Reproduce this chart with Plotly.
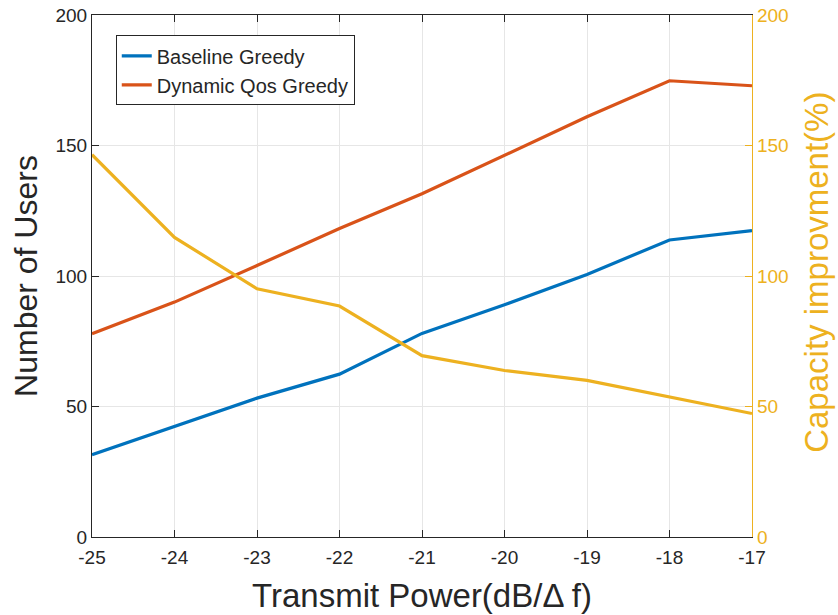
import plotly.graph_objects as go

power = [-25, -24, -23, -22, -21, -20, -19, -18, -17]
baseline_greedy = [31.5, 42.3, 53.2, 62.4, 78.0, 89.0, 100.6, 113.8, 117.4]
dynamic_qos_greedy = [77.9, 90.0, 104.0, 118.2, 131.5, 146.3, 161.0, 174.8, 172.9]
capacity_improvement = [146.5, 114.8, 95.1, 88.5, 69.5, 63.8, 60.0, 53.7, 47.3]

x_ticks = [-25, -24, -23, -22, -21, -20, -19, -18, -17]
y_ticks = [0, 50, 100, 150, 200]

BLUE = "#0072BD"
ORANGE = "#D95319"
YELLOW = "#EDB120"
AX = "#262626"
FONT = "Liberation Sans, Arial, Helvetica, sans-serif"

fig = go.Figure()
fig.add_trace(go.Scatter(x=power, y=baseline_greedy, mode="lines", name="Baseline Greedy",
                         line=dict(color=BLUE, width=3.2)))
fig.add_trace(go.Scatter(x=power, y=dynamic_qos_greedy, mode="lines", name="Dynamic Qos Greedy",
                         line=dict(color=ORANGE, width=3.2)))
fig.add_trace(go.Scatter(x=power, y=capacity_improvement, mode="lines", name="Capacity improvment",
                         line=dict(color=YELLOW, width=3.2), yaxis="y2", showlegend=False))

fig.update_layout(
    width=838, height=615,
    margin=dict(l=92, r=86, t=15, b=78, autoexpand=False),
    paper_bgcolor="white", plot_bgcolor="white",
    font=dict(family=FONT, color=AX, size=19),
    showlegend=True,
    legend=dict(x=0.036, y=0.961, xanchor="left", yanchor="top",
                bgcolor="white", bordercolor=AX, borderwidth=1,
                font=dict(size=20, color=AX), tracegroupgap=0,
                itemwidth=30),
    xaxis=dict(range=[-25, -17], tickmode="array", tickvals=x_ticks,
               ticktext=[str(v) for v in x_ticks], automargin=False,
               showgrid=True, gridcolor="#e6e6e6", gridwidth=1,
               showline=True, linecolor=AX, linewidth=1.2, mirror="ticks",
               ticks="inside", ticklen=7, tickcolor=AX, zeroline=False,
               ticklabelstandoff=3,
               tickfont=dict(size=19, color=AX),
               title=dict(text="Transmit Power(dB/\u0394 f)", font=dict(size=33, color=AX), standoff=16)),
    yaxis=dict(range=[0, 200], tickmode="array", tickvals=y_ticks, automargin=False,
               showgrid=True, gridcolor="#e6e6e6", gridwidth=1,
               showline=True, linecolor=AX, linewidth=1.2, mirror=False,
               ticks="inside", ticklen=7, tickcolor=AX, zeroline=False,
               tickfont=dict(size=19, color=AX),
               title=dict(text="Number of Users", font=dict(size=32, color=AX), standoff=8)),
    yaxis2=dict(range=[0, 200], tickmode="array", tickvals=y_ticks, overlaying="y", side="right",
                automargin=False,
                showgrid=False, showline=True, linecolor=YELLOW, linewidth=1.2,
                ticks="inside", ticklen=7, tickcolor=YELLOW, zeroline=False,
                tickfont=dict(size=19, color=YELLOW)),
    annotations=[dict(text="Capacity improvment(%)", textangle=-90,
                      xref="paper", yref="paper", x=(837 - 92) / 660, y=0.507,
                      xanchor="right", yanchor="middle", showarrow=False,
                      font=dict(size=33, color=YELLOW, family=FONT))],
)

fig.write_html("out.html")
